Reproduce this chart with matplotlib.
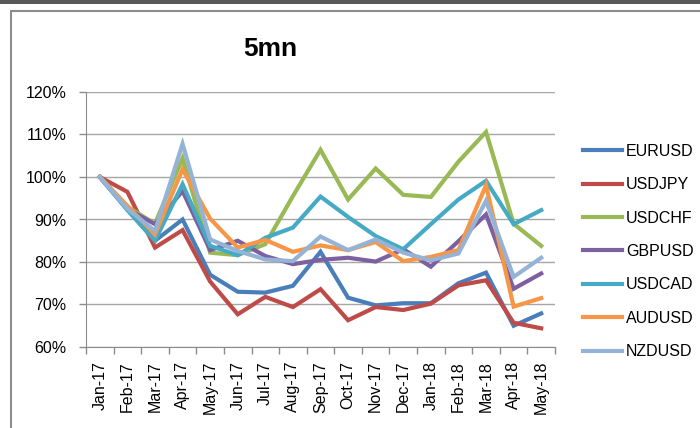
import numpy as np
import matplotlib
matplotlib.use('Agg')
from matplotlib import pyplot as plt
from matplotlib.patches import Rectangle
from matplotlib.ticker import FuncFormatter, MultipleLocator

plt.rcParams['font.family'] = ['Liberation Sans', 'DejaVu Sans']

# monthly values, in %
months = ['Jan-17', 'Feb-17', 'Mar-17', 'Apr-17', 'May-17', 'Jun-17', 'Jul-17', 'Aug-17',
          'Sep-17', 'Oct-17', 'Nov-17', 'Dec-17', 'Jan-18', 'Feb-18', 'Mar-18', 'Apr-18', 'May-18']
eurusd = [100, 92.5, 85, 90, 77, 73, 72.8, 74.4, 82.4, 71.6, 69.8, 70.3, 70.3, 75, 77.5, 65, 67.9]
usdjpy = [100, 96.5, 83.4, 87.5, 75.4, 67.7, 71.8, 69.4, 73.6, 66.3, 69.4, 68.7, 70.2, 74.5, 75.7, 65.7, 64.4]
usdchf = [100, 93, 89, 104.4, 82.2, 81.6, 84.2, 95.5, 106.4, 94.7, 102, 95.8, 95.3, 103.6, 110.6, 89, 83.8]
gbpusd = [100, 92.5, 88.9, 96.7, 82.8, 85, 81.4, 79.5, 80.5, 81, 80.1, 83, 78.9, 84.9, 91.2, 73.7, 77.3]
usdcad = [100, 92.2, 85, 98.3, 83.8, 81.6, 85.7, 88.1, 95.4, 90.6, 86.1, 83, 88.9, 94.7, 99.1, 88.9, 92.2]
audusd = [100, 93.2, 86.5, 101.8, 90.2, 83.4, 85.2, 82.4, 83.9, 82.8, 84.7, 80.2, 81.2, 82.8, 98.1, 69.5, 71.5]
nzdusd = [100, 92.5, 87.3, 107.8, 85.3, 82.6, 80.6, 80.2, 86, 82.8, 85.3, 82.2, 80.4, 82, 94.4, 76.5, 81]

names = ['EURUSD', 'USDJPY', 'USDCHF', 'GBPUSD', 'USDCAD', 'AUDUSD', 'NZDUSD']
series = [eurusd, usdjpy, usdchf, gbpusd, usdcad, audusd, nzdusd]
colors = ['#4A7EBB', '#BE4B48', '#98B954', '#7D60A0', '#46AAC5', '#F79646', '#95B3D7']

fig = plt.figure(figsize=(7, 4.28), dpi=100)

# window chrome + chart border
fig.patches.append(Rectangle((0, 1 - 4 / 428), 1, 4 / 428, transform=fig.transFigure,
                             facecolor='#595959', edgecolor='none'))
fig.patches.append(Rectangle((11 / 700, -0.05), 1.1, 1.05 - 11 / 428, transform=fig.transFigure,
                             facecolor='none', edgecolor='#8C8C8C', lw=1.5))

ax = fig.add_axes([86 / 700, 1 - 347 / 428, (555 - 86) / 700, (347 - 92) / 428])
x = np.arange(len(months))
for name, vals, c in zip(names, series, colors):
    ax.plot(x, vals, color=c, lw=3, label=name, solid_joinstyle='miter')

ax.set_xlim(-0.5, len(months) - 0.5)
ax.set_ylim(60, 120)
ax.yaxis.set_major_locator(MultipleLocator(10))
ax.yaxis.set_major_formatter(FuncFormatter(lambda v, p: '%d%%' % v))
ax.grid(axis='y', color='#A6A6A6', lw=1)
ax.set_axisbelow(True)

ax.set_xticks(x)
ax.set_xticklabels(months, rotation=90, fontsize=11.5)
ax.set_xticks(np.arange(-0.5, len(months)), minor=True)
ax.tick_params(axis='x', which='major', length=0, pad=10)
ax.tick_params(axis='x', which='minor', length=5, color='#8C8C8C', width=1)
ax.tick_params(axis='y', length=5, color='#8C8C8C', width=1, pad=9, labelsize=11.5)

for s in ['top', 'right']:
    ax.spines[s].set_visible(False)
for s in ['left', 'bottom']:
    ax.spines[s].set_color('#8C8C8C')

fig.text(270 / 700, 1 - 49 / 428, '5mn', ha='center', va='center', fontsize=19, fontweight='bold')

fig.legend(loc='center left', bbox_to_anchor=(583 / 700, 1 - 251.5 / 428), frameon=False,
           fontsize=11.5, handlelength=2.45, handletextpad=0.25, labelspacing=1.15,
           borderpad=0, borderaxespad=0)

fig.savefig('out.png', dpi=100)
